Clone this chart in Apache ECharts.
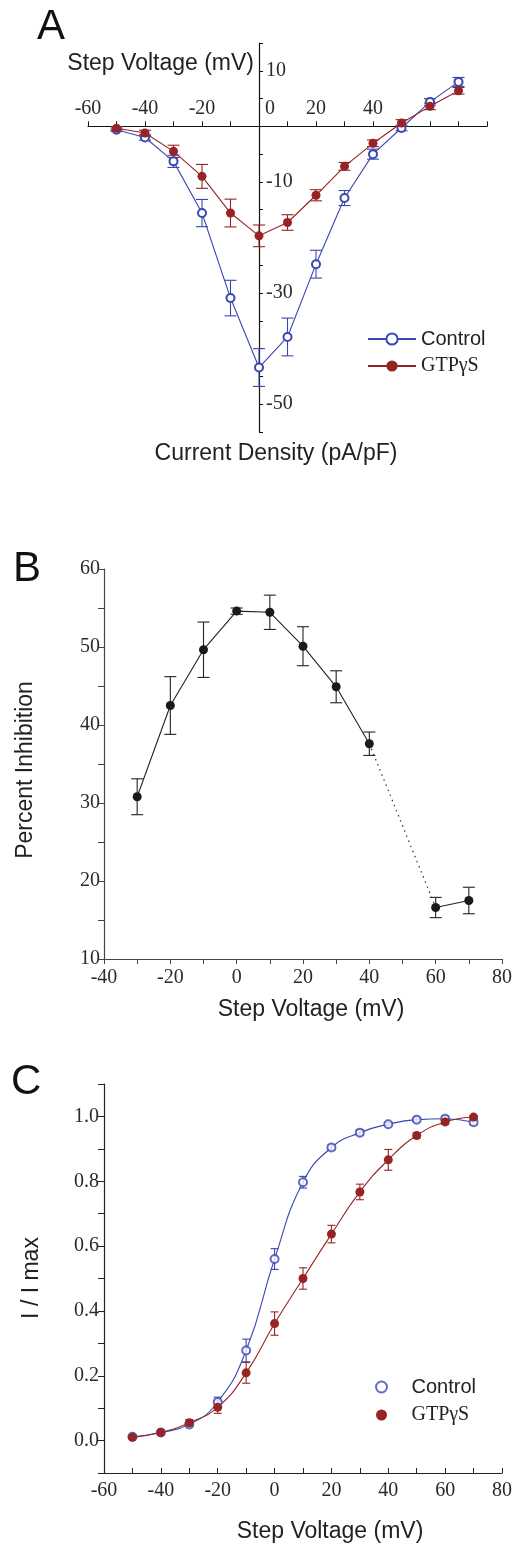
<!DOCTYPE html>
<html>
<head>
<meta charset="utf-8">
<script src="https://cdn.jsdelivr.net/npm/echarts@6/dist/echarts.min.js"></script>
<style>
html,body{margin:0;padding:0;background:#fff;}
#chart{width:517px;height:1549px;}
</style>
</head>
<body>
<div id="chart"></div>
<script>
// ---------- Panel A: I-V relation ----------
const aVolt = [-50, -40, -30, -20, -10, 0, 10, 20, 30, 40, 50, 60, 70];
const aControl = [-0.6, -2.0, -6.3, -15.6, -30.9, -43.4, -37.9, -24.8, -12.9, -5.0, -0.3, 4.4, 8.0];
const aControlErr = [0.3, 0.5, 1.1, 2.45, 3.2, 3.4, 3.4, 2.5, 1.35, 0.9, 0.5, 0.6, 0.8];
const aGtp = [-0.35, -1.2, -4.5, -9.0, -15.6, -19.7, -17.3, -12.4, -7.2, -3.05, 0.6, 3.6, 6.4];
const aGtpErr = [0.3, 0.5, 1.1, 2.15, 2.5, 1.95, 1.4, 1.0, 0.7, 0.6, 0.6, 0.6, 0.6];
const aXTickLabels = [-60, -40, -20, 0, 20, 40];
const aYTickLabels = [10, -10, -30, -50];

// ---------- Panel B: percent inhibition ----------
const bVolt = [-30, -20, -10, 0, 10, 20, 30, 40, 60, 70];
const bInhib = [30.8, 42.5, 49.65, 54.6, 54.45, 50.1, 44.9, 37.6, 16.6, 17.5];
const bErr = [2.3, 3.7, 3.55, 0.4, 2.2, 2.5, 2.05, 1.5, 1.3, 1.7];

// ---------- Panel C: activation curves ----------
const cVolt = [-50, -40, -30, -20, -10, 0, 10, 20, 30, 40, 50, 60, 70];
const cControl = [0.012, 0.025, 0.05, 0.119, 0.278, 0.560, 0.797, 0.904, 0.950, 0.976, 0.990, 0.993, 0.982];
const cControlErr = [0.004, 0.004, 0.006, 0.015, 0.035, 0.032, 0.018, 0.008, 0.008, 0.005, 0.006, 0.008, 0.008];
const cGtp = [0.010, 0.025, 0.055, 0.103, 0.209, 0.361, 0.500, 0.637, 0.767, 0.866, 0.941, 0.983, 0.998];
const cGtpErr = [0.004, 0.005, 0.010, 0.019, 0.032, 0.036, 0.033, 0.027, 0.024, 0.032, 0.008, 0.008, 0.005];

const BLUE = '#3a46b2';
const RED = '#962424';
const BLACK = '#1a1a1a';
const SERIF = '"Liberation Serif", "DejaVu Serif", serif';
const SANS = '"Liberation Sans", Arial, sans-serif';

function pairs(xs, ys) { return xs.map((x, i) => [x, ys[i]]); }
function triples(xs, ys, es) { return xs.map((x, i) => [x, ys[i], es[i]]); }

function errRender(capHalf, color, lw) {
  return function (params, api) {
    const x = api.value(0), y = api.value(1), e = api.value(2);
    const top = api.coord([x, y + e]);
    const bot = api.coord([x, y - e]);
    const style = { stroke: color, lineWidth: lw, fill: null };
    return {
      type: 'group',
      children: [
        { type: 'line', shape: { x1: top[0], y1: top[1], x2: bot[0], y2: bot[1] }, style: style },
        { type: 'line', shape: { x1: top[0] - capHalf, y1: top[1], x2: top[0] + capHalf, y2: top[1] }, style: style },
        { type: 'line', shape: { x1: bot[0] - capHalf, y1: bot[1], x2: bot[0] + capHalf, y2: bot[1] }, style: style }
      ]
    };
  };
}

function errSeries(idx, data, cap, color, lw) {
  return {
    type: 'custom', xAxisIndex: idx, yAxisIndex: idx, z: 2,
    renderItem: errRender(cap, color, lw), encode: { x: 0, y: 1 },
    data: data, silent: true
  };
}

// split panel B at the voltage gap (dotted connector)
let bSplit = bVolt.length;
for (let i = 1; i < bVolt.length; i++) { if (bVolt[i] - bVolt[i - 1] > 10) { bSplit = i; break; } }
const bSeg1 = pairs(bVolt.slice(0, bSplit), bInhib.slice(0, bSplit));
const bSeg2 = pairs(bVolt.slice(bSplit), bInhib.slice(bSplit));
const bDotted = [[bVolt[bSplit - 1], bInhib[bSplit - 1]], [bVolt[bSplit], bInhib[bSplit]]];

// Panel A grid geometry (axes cross at the origin)
const A_GRID = { left: 88, top: 43, width: 399, height: 389 };
const A_X = [-60, 80], A_Y = [-55, 15];
const aZeroRow = A_GRID.height * (A_Y[1] / (A_Y[1] - A_Y[0]));     // px from grid top to y=0
const aZeroCol = A_GRID.width * (-A_X[0] / (A_X[1] - A_X[0]));     // px from grid left to x=0

const tickLabelStyle = { fontFamily: SERIF, fontSize: 20, color: '#2a2a2a' };
const legendRich = {
  a: { fontFamily: SANS, fontSize: 20, color: '#222' },
  s: { fontFamily: SERIF, fontSize: 20, color: '#222' }
};
function legendFmt(name) { return name.indexOf('Control') >= 0 ? '{a|Control}' : '{s|GTPγS}'; }

const option = {
  animation: false,
  backgroundColor: '#fff',
  grid: [
    A_GRID,
    { left: 104, right: 15, top: 569, height: 390 },
    { left: 104, right: 15, top: 1084, height: 389 }
  ],
  xAxis: [
    {
      gridIndex: 0, type: 'value', min: A_X[0], max: A_X[1], interval: 10,
      position: 'top', offset: -aZeroRow,
      axisLine: { onZero: false, lineStyle: { color: '#111', width: 1.2 } },
      axisTick: { inside: false, length: 5, lineStyle: { color: '#111' } },
      splitLine: { show: false },
      axisLabel: Object.assign({}, tickLabelStyle, {
        margin: 8, showMinLabel: true, showMaxLabel: true, hideOverlap: false,
        formatter: function (v) {
          if (aXTickLabels.indexOf(v) < 0) return '';
          return v === 0 ? '{z|0}' : String(v);
        },
        rich: { z: { fontFamily: SERIF, fontSize: 20, color: '#2a2a2a', padding: [0, 0, 0, 22] } }
      })
    },
    {
      gridIndex: 1, type: 'value', min: -40, max: 80, interval: 10,
      axisLine: { onZero: false, lineStyle: { color: '#444', width: 1.2 } },
      axisTick: { inside: false, length: 5, lineStyle: { color: '#444' } },
      splitLine: { show: false },
      axisLabel: Object.assign({}, tickLabelStyle, {
        margin: 9, showMinLabel: true, showMaxLabel: true, hideOverlap: false,
        formatter: function (v) { return (v % 20 === 0) ? String(v) : ''; }
      })
    },
    {
      gridIndex: 2, type: 'value', min: -60, max: 80, interval: 10,
      axisLine: { onZero: false, lineStyle: { color: '#222', width: 1.2 } },
      axisTick: { inside: true, length: 5, lineStyle: { color: '#222' } },
      splitLine: { show: false },
      axisLabel: Object.assign({}, tickLabelStyle, {
        margin: 8, showMinLabel: true, showMaxLabel: true, hideOverlap: false,
        formatter: function (v) { return (v % 20 === 0) ? String(v) : ''; }
      })
    }
  ],
  yAxis: [
    {
      gridIndex: 0, type: 'value', min: A_Y[0], max: A_Y[1], interval: 5,
      position: 'left', offset: -aZeroCol,
      axisLine: { onZero: false, lineStyle: { color: '#111', width: 1.2 } },
      axisTick: { inside: true, length: 4, lineStyle: { color: '#111' } },
      splitLine: { show: false },
      axisLabel: Object.assign({}, tickLabelStyle, {
        inside: true, margin: 7, showMinLabel: true, showMaxLabel: true, hideOverlap: false,
        formatter: function (v) { return aYTickLabels.indexOf(Math.round(v)) >= 0 ? String(Math.round(v)) : ''; }
      })
    },
    {
      gridIndex: 1, type: 'value', min: 10, max: 60, interval: 5,
      axisLine: { onZero: false, lineStyle: { color: '#444', width: 1.2 } },
      axisTick: { inside: false, length: 6, lineStyle: { color: '#444' } },
      splitLine: { show: false },
      axisLabel: Object.assign({}, tickLabelStyle, {
        margin: 4, showMinLabel: true, showMaxLabel: true, hideOverlap: false,
        formatter: function (v) { return (Math.round(v) % 10 === 0) ? String(Math.round(v)) : ''; }
      })
    },
    {
      gridIndex: 2, type: 'value', min: -0.1, max: 1.1, interval: 0.1,
      axisLine: { onZero: false, lineStyle: { color: '#222', width: 1.2 } },
      axisTick: { inside: false, length: 6, lineStyle: { color: '#222' } },
      splitLine: { show: false },
      axisLabel: Object.assign({}, tickLabelStyle, {
        margin: 5, showMinLabel: true, showMaxLabel: true, hideOverlap: false,
        formatter: function (v) {
          const r = Math.round(v * 10);
          return (r >= 0 && r <= 10 && r % 2 === 0) ? (r / 10).toFixed(1) : '';
        }
      })
    }
  ],
  legend: [
    {
      orient: 'vertical', left: 362, top: 324, itemWidth: 48, itemHeight: 14, itemGap: 7,
      data: ['A-Control', 'A-GTP'], formatter: legendFmt, selectedMode: false,
      textStyle: { rich: legendRich }
    },
    {
      orient: 'vertical', left: 370, top: 1372, itemWidth: 50, itemHeight: 11, itemGap: 8,
      data: ['C-Control', 'C-GTP'], formatter: legendFmt, selectedMode: false,
      textStyle: { rich: legendRich }
    }
  ],
  graphic: [
    { type: 'text', left: 37, top: 6, style: { text: 'A', font: '42px ' + SANS, fill: '#111' } },
    { type: 'text', left: 13, top: 548, style: { text: 'B', font: '42px ' + SANS, fill: '#111' } },
    { type: 'text', left: 11, top: 1061, style: { text: 'C', font: '42px ' + SANS, fill: '#111' } },
    { type: 'text', x: 254, y: 64, style: { text: 'Step Voltage (mV)', font: '23px ' + SANS, fill: '#222', textAlign: 'right', textVerticalAlign: 'middle' } },
    { type: 'text', x: 276, y: 454, style: { text: 'Current Density (pA/pF)', font: '23px ' + SANS, fill: '#222', textAlign: 'center', textVerticalAlign: 'middle' } },
    { type: 'text', x: 311, y: 1010, style: { text: 'Step Voltage (mV)', font: '23px ' + SANS, fill: '#222', textAlign: 'center', textVerticalAlign: 'middle' } },
    { type: 'text', x: 26, y: 770, rotation: Math.PI / 2, style: { text: 'Percent Inhibition', font: '23px ' + SANS, fill: '#222', textAlign: 'center', textVerticalAlign: 'middle' } },
    { type: 'text', x: 330, y: 1532, style: { text: 'Step Voltage (mV)', font: '23px ' + SANS, fill: '#222', textAlign: 'center', textVerticalAlign: 'middle' } },
    { type: 'text', x: 32, y: 1278, rotation: Math.PI / 2, style: { text: 'I / I max', font: '23px ' + SANS, fill: '#222', textAlign: 'center', textVerticalAlign: 'middle' } }
  ],
  series: [
    // Panel A
    errSeries(0, triples(aVolt, aControl, aControlErr), 6, BLUE, 1.1),
    errSeries(0, triples(aVolt, aGtp, aGtpErr), 6, RED, 1.1),
    {
      name: 'A-Control', type: 'line', xAxisIndex: 0, yAxisIndex: 0, z: 3,
      data: pairs(aVolt, aControl), symbol: 'emptyCircle', symbolSize: 8,
      lineStyle: { color: BLUE, width: 1.1 },
      itemStyle: { color: BLUE, borderWidth: 1 }
    },
    {
      name: 'A-GTP', type: 'line', xAxisIndex: 0, yAxisIndex: 0, z: 4,
      data: pairs(aVolt, aGtp), symbol: 'circle', symbolSize: 9,
      lineStyle: { color: RED, width: 1.1 },
      itemStyle: { color: RED }
    },
    // Panel B
    errSeries(1, triples(bVolt, bInhib, bErr), 6, '#222', 1.1),
    {
      name: 'B-seg1', type: 'line', xAxisIndex: 1, yAxisIndex: 1, z: 3,
      data: bSeg1, symbol: 'circle', symbolSize: 9,
      lineStyle: { color: '#222', width: 1.1 }, itemStyle: { color: BLACK }
    },
    {
      name: 'B-gap', type: 'line', xAxisIndex: 1, yAxisIndex: 1, z: 2,
      data: bDotted, symbol: 'none',
      lineStyle: { color: '#333', width: 1.2, type: [1.5, 4] }
    },
    {
      name: 'B-seg2', type: 'line', xAxisIndex: 1, yAxisIndex: 1, z: 3,
      data: bSeg2, symbol: 'circle', symbolSize: 9,
      lineStyle: { color: '#222', width: 1.1 }, itemStyle: { color: BLACK }
    },
    // Panel C
    errSeries(2, triples(cVolt, cControl, cControlErr), 4, BLUE, 1.1),
    errSeries(2, triples(cVolt, cGtp, cGtpErr), 4, RED, 1.1),
    {
      name: 'C-Control-fit', type: 'line', xAxisIndex: 2, yAxisIndex: 2, z: 3,
      data: pairs(cVolt, cControl), symbol: 'none', smooth: 0.5,
      lineStyle: { color: BLUE, width: 1.1 }
    },
    {
      name: 'C-GTP-fit', type: 'line', xAxisIndex: 2, yAxisIndex: 2, z: 3,
      data: pairs(cVolt, cGtp), symbol: 'none', smooth: 0.5,
      lineStyle: { color: RED, width: 1.1 }
    },
    {
      name: 'C-Control', type: 'scatter', xAxisIndex: 2, yAxisIndex: 2, z: 4,
      data: pairs(cVolt, cControl), symbol: 'emptyCircle', symbolSize: 8,
      itemStyle: { color: BLUE, borderWidth: 1.1 }
    },
    {
      name: 'C-GTP', type: 'scatter', xAxisIndex: 2, yAxisIndex: 2, z: 5,
      data: pairs(cVolt, cGtp), symbol: 'circle', symbolSize: 9,
      itemStyle: { color: RED, opacity: 1 }
    }
  ]
};

const chart = echarts.init(document.getElementById('chart'), null, { renderer: 'canvas' });
chart.setOption(option);
</script>
</body>
</html>
